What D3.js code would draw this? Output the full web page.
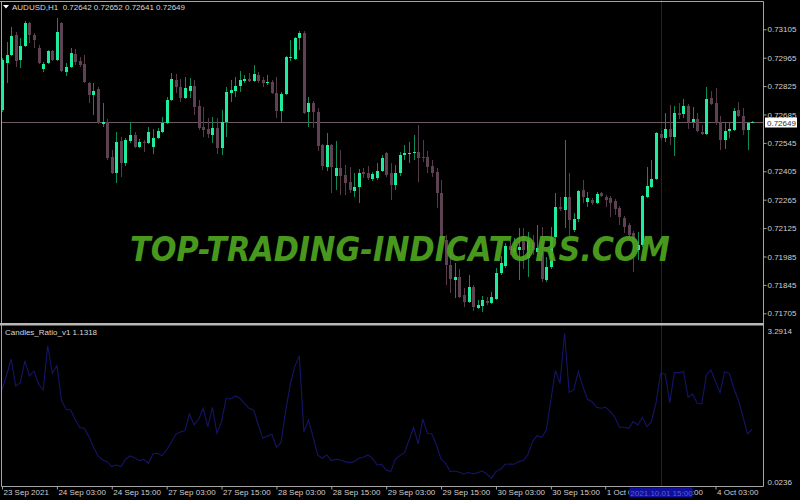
<!DOCTYPE html>
<html>
<head>
<meta charset="utf-8">
<script src="https://cdn.jsdelivr.net/npm/d3@7"></script>
<style>
  body { margin: 0; background: #000; }
  svg text { font-family: "Liberation Sans", Arial, sans-serif; }
</style>
</head>
<body>
<svg id="chart" width="800" height="500"></svg>
<script>
// AUDUSD H1 bars (bar 0 = 23 Sep 15:00)
var opens = [0.72709,0.72940,0.72979,0.73078,0.72955,0.73024,0.73137,0.73078,0.73015,0.72911,
  0.72940,0.72999,0.72955,0.73137,0.72896,0.72920,0.72984,0.72950,0.72935,0.72842,
  0.72782,0.72813,0.72640,0.72650,0.72477,0.72398,0.72556,0.72447,0.72556,0.72586,
  0.72526,0.72551,0.72546,0.72526,0.72571,0.72600,0.72645,0.72758,0.72857,0.72822,
  0.72768,0.72802,0.72827,0.72728,0.72625,0.72615,0.72586,0.72620,0.72521,0.72650,
  0.72792,0.72802,0.72827,0.72852,0.72862,0.72852,0.72881,0.72857,0.72842,0.72847,
  0.72792,0.72704,0.72787,0.72965,0.72960,0.73064,0.73088,0.72699,0.72743,0.72699,
  0.72536,0.72428,0.72536,0.72383,0.72423,0.72388,0.72354,0.72310,0.72329,0.72403,
  0.72398,0.72369,0.72374,0.72408,0.72497,0.72398,0.72339,0.72398,0.72487,0.72492,
  0.72497,0.72502,0.72477,0.72477,0.72432,0.72403,0.72300,0.72068,0.71945,0.71871,
  0.71886,0.71797,0.71763,0.71837,0.71733,0.71743,0.71768,0.71758,0.71777,0.71906,
  0.71940,0.72039,0.72009,0.72019,0.72088,0.71980,0.72058,0.72009,0.72009,0.71871,
  0.71935,0.72083,0.72231,0.72216,0.72280,0.72118,0.72172,0.72315,0.72255,0.72265,
  0.72250,0.72300,0.72280,0.72275,0.72260,0.72226,0.72177,0.72142,0.72103,0.72019,
  0.72044,0.72280,0.72329,0.72369,0.72590,0.72571,0.72615,0.72576,0.72694,0.72689,
  0.72728,0.72650,0.72665,0.72600,0.72590,0.72768,0.72743,0.72645,0.72561,0.72605,
  0.72610,0.72709,0.72679,0.72610,0.72642];
var highs = [0.72965,0.73044,0.73117,0.73093,0.73064,0.73147,0.73142,0.73088,0.73029,0.72945,
  0.73004,0.73004,0.73163,0.73142,0.72940,0.73015,0.73010,0.72970,0.72979,0.72847,
  0.72842,0.72822,0.72743,0.72665,0.72512,0.72600,0.72576,0.72571,0.72650,0.72600,
  0.72566,0.72561,0.72625,0.72615,0.72620,0.72674,0.72773,0.72891,0.72886,0.72862,
  0.72871,0.72866,0.72857,0.72758,0.72724,0.72669,0.72674,0.72669,0.72709,0.72822,
  0.72857,0.72871,0.72901,0.72881,0.72891,0.72930,0.72896,0.72871,0.72881,0.72857,
  0.72871,0.72797,0.72975,0.73054,0.73069,0.73098,0.73098,0.72773,0.72753,0.72719,
  0.72541,0.72595,0.72541,0.72556,0.72512,0.72438,0.72428,0.72398,0.72418,0.72423,
  0.72432,0.72403,0.72447,0.72487,0.72502,0.72447,0.72438,0.72502,0.72536,0.72551,
  0.72586,0.72635,0.72561,0.72507,0.72462,0.72423,0.72364,0.72093,0.72019,0.71955,
  0.71921,0.71832,0.71896,0.71846,0.71773,0.71792,0.71787,0.71812,0.71930,0.71989,
  0.72053,0.72068,0.72078,0.72127,0.72127,0.72108,0.72093,0.72142,0.72132,0.71984,
  0.72132,0.72300,0.72280,0.72561,0.72398,0.72201,0.72315,0.72364,0.72305,0.72275,
  0.72305,0.72305,0.72290,0.72285,0.72270,0.72236,0.72187,0.72152,0.72113,0.72108,
  0.72290,0.72428,0.72462,0.72600,0.72610,0.72694,0.72733,0.72728,0.72743,0.72763,
  0.72738,0.72724,0.72694,0.72635,0.72822,0.72802,0.72817,0.72679,0.72645,0.72645,
  0.72719,0.72748,0.72719,0.72650,0.72652];
var lows = [0.72699,0.72842,0.72974,0.72920,0.72916,0.73019,0.73039,0.73015,0.72935,0.72896,
  0.72935,0.72950,0.72950,0.72896,0.72876,0.72916,0.72930,0.72920,0.72842,0.72743,
  0.72684,0.72640,0.72625,0.72462,0.72393,0.72349,0.72378,0.72432,0.72546,0.72521,
  0.72521,0.72502,0.72541,0.72492,0.72566,0.72595,0.72640,0.72753,0.72793,0.72748,
  0.72763,0.72768,0.72684,0.72610,0.72576,0.72571,0.72546,0.72492,0.72487,0.72576,
  0.72748,0.72773,0.72797,0.72842,0.72847,0.72847,0.72842,0.72822,0.72832,0.72787,
  0.72669,0.72645,0.72782,0.72950,0.72955,0.73004,0.72689,0.72625,0.72620,0.72507,
  0.72413,0.72408,0.72300,0.72315,0.72290,0.72290,0.72300,0.72280,0.72250,0.72374,
  0.72364,0.72359,0.72364,0.72403,0.72378,0.72265,0.72315,0.72383,0.72462,0.72447,
  0.72462,0.72354,0.72452,0.72398,0.72378,0.72226,0.72053,0.71846,0.71807,0.71782,
  0.71782,0.71738,0.71758,0.71714,0.71724,0.71709,0.71748,0.71753,0.71773,0.71896,
  0.71930,0.71994,0.71989,0.71871,0.71921,0.71886,0.71994,0.71989,0.71861,0.71861,
  0.71921,0.72068,0.72211,0.72127,0.72083,0.72108,0.72157,0.72250,0.72231,0.72241,
  0.72245,0.72280,0.72231,0.72182,0.72191,0.72142,0.72103,0.72068,0.71911,0.71970,
  0.72034,0.72275,0.72324,0.72364,0.72561,0.72551,0.72536,0.72482,0.72665,0.72669,
  0.72615,0.72620,0.72600,0.72586,0.72586,0.72733,0.72635,0.72512,0.72517,0.72571,
  0.72605,0.72674,0.72586,0.72512,0.72641];
var closes = [0.72955,0.72979,0.73073,0.72950,0.73024,0.73137,0.73078,0.73054,0.72940,0.72935,
  0.72999,0.72955,0.73093,0.72901,0.72920,0.72989,0.72945,0.72930,0.72847,0.72782,
  0.72802,0.72645,0.72650,0.72472,0.72398,0.72551,0.72447,0.72561,0.72586,0.72526,
  0.72551,0.72546,0.72600,0.72571,0.72605,0.72645,0.72758,0.72862,0.72822,0.72768,
  0.72817,0.72827,0.72724,0.72620,0.72610,0.72590,0.72620,0.72521,0.72650,0.72797,
  0.72807,0.72827,0.72857,0.72862,0.72852,0.72886,0.72852,0.72842,0.72847,0.72792,
  0.72704,0.72787,0.72970,0.72970,0.73064,0.73088,0.72694,0.72743,0.72699,0.72531,
  0.72432,0.72536,0.72428,0.72423,0.72383,0.72349,0.72315,0.72329,0.72398,0.72393,
  0.72374,0.72393,0.72408,0.72472,0.72388,0.72339,0.72398,0.72487,0.72497,0.72497,
  0.72502,0.72472,0.72472,0.72428,0.72398,0.72300,0.72068,0.71945,0.71876,0.71886,
  0.71787,0.71763,0.71837,0.71738,0.71748,0.71773,0.71758,0.71787,0.71906,0.71955,
  0.72039,0.72019,0.72029,0.72034,0.72019,0.72068,0.72019,0.72029,0.71876,0.71935,
  0.72083,0.72231,0.72221,0.72280,0.72167,0.72172,0.72310,0.72280,0.72275,0.72250,
  0.72295,0.72285,0.72265,0.72250,0.72221,0.72182,0.72132,0.72093,0.72058,0.72044,
  0.72285,0.72334,0.72369,0.72595,0.72571,0.72615,0.72576,0.72694,0.72684,0.72728,
  0.72650,0.72665,0.72605,0.72590,0.72763,0.72738,0.72645,0.72561,0.72605,0.72615,
  0.72704,0.72679,0.72610,0.72645,0.72649];

// Candles_Ratio_v1 values, one per bar
var ratio = [2.014,2.352,2.706,2.105,2.180,2.668,2.330,2.443,2.142,2.014,
  3.014,2.390,2.563,1.789,1.579,1.564,1.353,1.166,1.150,0.963,
  0.737,0.527,0.437,0.399,0.287,0.324,0.287,0.452,0.527,0.489,
  0.422,0.452,0.362,0.572,0.587,0.534,0.662,0.835,1.015,1.068,
  1.098,1.473,1.226,1.353,1.601,1.188,1.624,1.038,1.301,1.827,
  1.812,1.879,1.827,1.714,1.601,1.564,1.241,0.925,0.978,1.015,
  0.722,0.827,1.526,2.127,2.540,2.788,1.075,1.338,0.963,0.549,
  0.474,0.549,0.422,0.452,0.437,0.399,0.377,0.399,0.474,0.497,
  0.549,0.474,0.324,0.339,0.211,0.174,0.452,0.535,0.602,0.888,
  1.173,0.797,1.361,1.038,1.023,0.775,0.452,0.362,0.174,0.189,
  0.159,0.121,0.159,0.121,0.151,0.189,0.121,0.0236,0.174,0.226,
  0.339,0.347,0.339,0.399,0.422,0.565,0.850,0.985,0.948,1.113,
  1.789,2.450,2.165,3.2914,1.962,2.014,2.428,2.090,1.804,1.751,
  1.624,1.601,1.624,1.526,1.398,1.173,1.173,1.150,1.301,1.226,
  1.398,1.188,1.301,1.729,2.390,2.375,1.729,2.405,2.405,2.428,
  1.849,1.924,1.714,1.699,2.352,2.465,2.202,1.954,2.428,2.390,
  2.052,1.789,1.413,1.023,1.1318];

var priceTicks = [0.73105,0.72965,0.72825,0.72685,0.72545,0.72405,0.72265,0.72125,0.71985,0.71845,0.71705];
var ratioTicks = [3.2914, 0.0236];
var timeIdx = [0,12,24,36,48,60,72,84,96,108,120,132,144,156];
var timeLabels = ["23 Sep 2021","24 Sep 03:00","24 Sep 15:00","27 Sep 03:00","27 Sep 15:00",
  "28 Sep 03:00","28 Sep 15:00","29 Sep 03:00","29 Sep 15:00","30 Sep 03:00",
  "30 Sep 15:00","1 Oct 03:00","1 Oct 15:00","4 Oct 03:00"];
var lastPrice = 0.72649;
var cursorBar = 144;
var cursorLabel = "2021.10.01 15:00";

var svg = d3.select("#chart");
svg.append("rect").attr("width", 800).attr("height", 500).attr("fill", "#000");

var axisX = 763.5;
var x = d3.scaleLinear().domain([0, 164]).range([2, 752.1]);
var y = d3.scaleLinear().domain([0.71705, 0.73105]).range([313.3, 29.3]);
var y2 = d3.scaleLinear().domain([0.0236, 3.2914]).range([478.3, 333.3]);

var defs = svg.append("defs");
defs.append("clipPath").attr("id", "mainclip")
  .append("rect").attr("x", 2).attr("y", 2).attr("width", 761).attr("height", 320);

// cursor line through both windows
var cx = Math.round(x(cursorBar)) + 0.5;
svg.append("line")
  .attr("x1", cx).attr("x2", cx).attr("y1", 0).attr("y2", 486)
  .attr("stroke", "#15158f").attr("stroke-width", 1);

// last price line
var ly = Math.round(y(lastPrice)) + 0.5;
svg.append("line")
  .attr("x1", 2).attr("x2", axisX).attr("y1", ly).attr("y2", ly)
  .attr("stroke", "#6c5a66");

// candles
var bars = d3.range(opens.length);
var cg = svg.append("g").attr("clip-path", "url(#mainclip)").attr("shape-rendering", "crispEdges");
cg.selectAll(".wick").data(bars).enter().append("line")
  .attr("x1", function(i) { return Math.round(x(i)) + 0.5; })
  .attr("x2", function(i) { return Math.round(x(i)) + 0.5; })
  .attr("y1", function(i) { return y(highs[i]); })
  .attr("y2", function(i) { return y(lows[i]); })
  .attr("stroke", function(i) { return closes[i] >= opens[i] ? "#0c8a5a" : "#573a4a"; });
cg.selectAll(".body").data(bars).enter().append("rect")
  .attr("x", function(i) { return Math.round(x(i)) - 1; })
  .attr("width", 3)
  .attr("y", function(i) { return y(Math.max(opens[i], closes[i])); })
  .attr("height", function(i) { return Math.max(1, Math.abs(y(opens[i]) - y(closes[i]))); })
  .attr("fill", function(i) { return closes[i] >= opens[i] ? "#20ec9e" : "#5e4254"; });

// indicator line
svg.append("path")
  .datum(ratio)
  .attr("fill", "none")
  .attr("stroke", "#141468")
  .attr("stroke-width", 1.1)
  .attr("d", d3.line().x(function(d, i) { return x(i); }).y(function(d) { return y2(d); }));

// watermark
svg.append("text")
  .attr("x", 130).attr("y", 261)
  .attr("textLength", 540).attr("lengthAdjust", "spacingAndGlyphs")
  .style("font-family", "'DejaVu Sans', sans-serif")
  .style("font-weight", "bold").style("font-style", "italic")
  .style("font-size", "33px")
  .attr("fill", "#4ea520").attr("opacity", 0.92)
  .text("TOP-TRADING-INDICATORS.COM");

// frames
var frame = "#a4a4a4";
svg.append("line").attr("x1", 0).attr("x2", axisX).attr("y1", 1.5).attr("y2", 1.5).attr("stroke", frame);
svg.append("line").attr("x1", 1.5).attr("x2", 1.5).attr("y1", 1.5).attr("y2", 486.5).attr("stroke", frame);
svg.append("line").attr("x1", axisX).attr("x2", axisX).attr("y1", 1.5).attr("y2", 486.5).attr("stroke", frame);
svg.append("line").attr("x1", 1.5).attr("x2", axisX).attr("y1", 486.5).attr("y2", 486.5).attr("stroke", frame);
svg.append("rect").attr("x", 0).attr("y", 323).attr("width", axisX).attr("height", 2.5).attr("fill", "#b8b8b8");

// price axis
var ax = svg.append("g").attr("transform", "translate(" + axisX + ",0)")
  .call(d3.axisRight(y).tickValues(priceTicks).tickSize(3).tickPadding(1).tickFormat(d3.format(".5f")));
ax.select(".domain").remove();
ax.selectAll("line").attr("stroke", frame);
ax.selectAll("text").attr("fill", "#cfcfcf").style("font-size", "8px");

// last price box
svg.append("rect").attr("x", 765).attr("y", ly - 5).attr("width", 32).attr("height", 10).attr("fill", "#fff");
svg.append("text").attr("x", 767).attr("y", ly + 3).attr("fill", "#303030")
  .style("font-size", "8px").text(d3.format(".5f")(lastPrice));

// indicator axis
var ax2 = svg.append("g").attr("transform", "translate(" + axisX + ",0)")
  .call(d3.axisRight(y2).tickValues(ratioTicks).tickSize(0).tickPadding(4).tickFormat(d3.format(".4f")));
ax2.select(".domain").remove();
ax2.selectAll("text").attr("fill", "#cfcfcf").style("font-size", "8px")
  .attr("dy", function(d) { return d > 1 ? "0.05em" : "0.75em"; });

// time axis; labels under the cursor box are cut off as in the terminal
var boxX = cx - 32, boxW = 63;
defs.append("clipPath").attr("id", "timeclip").selectAll("rect")
  .data([[0, boxX], [boxX + boxW, 800]]).enter().append("rect")
  .attr("x", function(d) { return d[0]; }).attr("y", 486)
  .attr("width", function(d) { return d[1] - d[0]; }).attr("height", 14);
var tx = svg.append("g").attr("transform", "translate(0,486.5)")
  .call(d3.axisBottom(x).tickValues(timeIdx).tickSize(3).tickPadding(0)
    .tickFormat(function(d, i) { return timeLabels[i]; }));
tx.select(".domain").remove();
tx.selectAll("line").attr("stroke", frame);
tx.selectAll("text").attr("fill", "#cfcfcf").style("font-size", "8px")
  .attr("text-anchor", "start").attr("x", 1).attr("y", 8).attr("dy", 0)
  .attr("clip-path", function(d) { return (d === 132 || d === 144) ? "url(#timeclip)" : null; });
tx.selectAll("text").filter(function(d) { return d === 132 || d === 144; })
  .each(function() {
    // clip is in user space of the text's parent, shift by the group offset
    d3.select(this).attr("clip-path", null);
  });
var cut = svg.append("g").attr("clip-path", "url(#timeclip)");
tx.selectAll(".tick").filter(function(d) { return d === 132 || d === 144; })
  .each(function() { cut.node().appendChild(this.parentNode.removeChild(this)); });
cut.selectAll(".tick").attr("transform", function(d) { return "translate(" + x(d) + ",486.5)"; });

// cursor time label
svg.append("rect").attr("x", boxX).attr("y", 487.5).attr("width", boxW).attr("height", 10).attr("fill", "#10109c");
svg.append("text").attr("x", cx).attr("y", 495.5).attr("text-anchor", "middle")
  .attr("fill", "#5b5bd0").style("font-size", "8px").text(cursorLabel);

// window titles
svg.append("path").attr("d", "M3,5 L9,5 L6,8.5 Z").attr("fill", "#fff");
svg.append("text").attr("x", 12).attr("y", 10).attr("fill", "#d8d8d8")
  .style("font-size", "8px").style("white-space", "pre")
  .text("AUDUSD,H1  " + [opens[164], highs[164], lows[164], closes[164]].map(d3.format(".5f")).join(" "));
svg.append("text").attr("x", 5).attr("y", 335).attr("fill", "#d8d8d8")
  .style("font-size", "8px")
  .text("Candles_Ratio_v1 " + d3.format(".4f")(ratio[164]));
</script>
</body>
</html>
